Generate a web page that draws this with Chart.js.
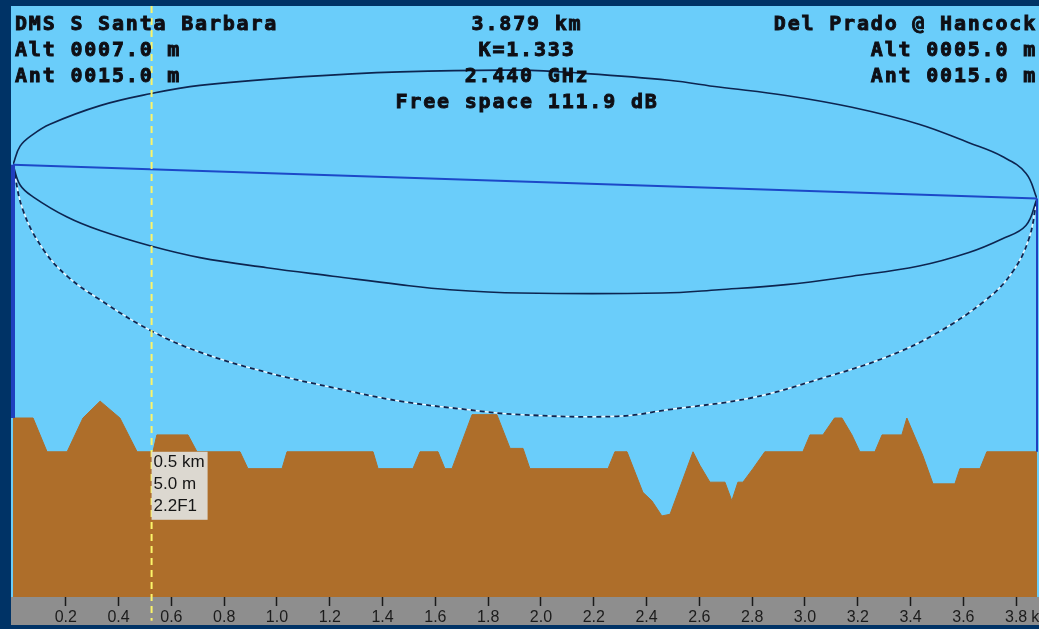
<!DOCTYPE html>
<html>
<head>
<meta charset="utf-8">
<title>Path profile</title>
<script src="https://cdn.jsdelivr.net/npm/chart.js@4.4.0/dist/chart.umd.min.js"></script>
<style>
    html, body { margin: 0; padding: 0; background: #003366; overflow: hidden; }
    #profile-chart { display: block; }
</style>
</head>
<body>
<canvas id="profile-chart" width="1039" height="629"></canvas>
<script>
// path length (km) and visible height range (m)
const pathKm = 3.879;
const heightMin = -3.6;
const heightMax = 31.4;

// site heights: ground + antenna
const siteA = { name: 'DMS S Santa Barbara', alt: 7, ant: 15 };
const siteB = { name: 'Del Prado @ Hancock', alt: 5, ant: 15 };

// terrain profile
const terrainKm = [0, 0.076, 0.129, 0.205, 0.265, 0.330, 0.405, 0.470, 0.530, 0.545, 0.663, 0.697, 0.860, 0.890,
    1.019, 1.038, 1.364, 1.383, 1.515, 1.542, 1.610, 1.636, 1.663, 1.739, 1.833, 1.883, 1.932, 1.958,
    2.254, 2.280, 2.326, 2.386, 2.420, 2.458, 2.489, 2.576, 2.602, 2.640, 2.697, 2.723, 2.746, 2.765,
    2.803, 2.848, 2.992, 3.019, 3.068, 3.112, 3.140, 3.178, 3.208, 3.265, 3.292, 3.367, 3.386, 3.446,
    3.485, 3.568, 3.587, 3.663, 3.689, 3.879];
const terrainM = [7, 7, 5, 5, 7, 8, 7, 5, 5, 6, 6, 5, 5, 4,
    4, 5, 5, 4, 4, 5, 5, 4, 4, 7.2, 7.2, 5.2, 5.2, 4,
    4, 5, 5, 2.6, 2.1, 1.2, 1.3, 5, 4.2, 3.2, 3.2, 2.1, 3.2, 3.2,
    4, 5, 5, 6, 6, 7, 7, 6, 5, 5, 6, 6, 7, 4.8,
    3.1, 3.1, 4, 4, 5, 5];

// 0.6 F1 zone, upper and lower edge
const zoneUpperKm = [0, 0.027, 0.076, 0.140, 0.330, 0.519, 0.708, 1.087, 1.466, 1.920, 2.170, 2.485, 2.674, 2.928, 3.178, 3.432, 3.621, 3.746, 3.837, 3.879];
const zoneUpperM = [22.0, 23.1, 23.8, 24.4, 25.5, 26.2, 26.7, 27.2, 27.5, 27.6, 27.4, 27.0, 26.6, 26.1, 25.4, 24.4, 23.3, 22.5, 21.5, 20.0];
const zoneLowerKm = [0, 0.027, 0.076, 0.205, 0.330, 0.519, 0.708, 0.962, 1.212, 1.466, 1.655, 1.920, 2.458, 2.674, 2.928, 3.178, 3.432, 3.621, 3.746, 3.837, 3.879];
const zoneLowerM = [22.0, 20.8, 20.1, 18.9, 18.1, 17.2, 16.5, 15.9, 15.4, 14.9, 14.6, 14.4, 14.4, 14.6, 14.9, 15.4, 16.0, 16.8, 17.6, 18.4, 20.0];

// first Fresnel zone, lower edge (dashed)
const fresnelKm = [0, 0.038, 0.114, 0.205, 0.330, 0.519, 0.708, 0.962, 1.212, 1.466, 1.720, 1.920, 2.288, 2.485, 2.799, 3.053, 3.307, 3.496, 3.686, 3.784, 3.848, 3.879];
const fresnelM = [22.0, 19.3, 17.0, 15.4, 14.0, 12.2, 10.9, 9.7, 8.8, 8.0, 7.5, 7.2, 7.1, 7.5, 8.2, 9.3, 10.6, 12.0, 14.0, 15.6, 17.6, 20.0];

// cursor readout
const cursorKm = 0.525;
const cursorLines = ['0.5 km', '5.0 m', '2.2F1'];
const cursorGroundM = 5.0;

const headerLeft = [siteA.name, 'Alt 0007.0 m', 'Ant 0015.0 m'];
const headerCenter = ['3.879 km', 'K=1.333', '2.440 GHz', 'Free space 111.9 dB'];
const headerRight = [siteB.name, 'Alt 0005.0 m', 'Ant 0015.0 m'];

function toPoints(xs, ys) {
    return xs.map((x, i) => ({ x: x, y: ys[i] }));
}

const backdropPlugin = {
    id: 'backdrop',
    beforeDraw(chart) {
        const { ctx, chartArea } = chart;
        ctx.save();
        ctx.fillStyle = '#003366';
        ctx.fillRect(0, 0, chart.width, chart.height);
        ctx.fillStyle = '#6acdfa';
        ctx.fillRect(chartArea.left - 2, chartArea.top, chart.width, chartArea.bottom - chartArea.top);
        ctx.fillStyle = '#8e8e8e';
        ctx.fillRect(chartArea.left - 2, chartArea.bottom, chart.width, 28);
        ctx.restore();
    }
};

// monospaced header text, drawn char by char to get the wide bitmap look
function drawMono(ctx, text, x, y, align) {
    const step = 13.85;
    const w = text.length * step;
    let x0 = x;
    if (align === 'right') x0 = x - w;
    if (align === 'center') x0 = x - w / 2;
    for (let i = 0; i < text.length; i++) {
        ctx.strokeText(text[i], x0 + i * step, y);
        ctx.fillText(text[i], x0 + i * step, y);
    }
}

const labelsPlugin = {
    id: 'labels',
    afterDatasetsDraw(chart) {
        const { ctx } = chart;
        const xs = chart.scales.x;
        const ys = chart.scales.y;
        ctx.save();

        // header
        ctx.fillStyle = '#0e0e14';
        ctx.strokeStyle = '#0e0e14';
        ctx.lineWidth = 0.9;
        ctx.font = 'bold 20px "DejaVu Sans Mono", "Liberation Mono", monospace';
        ctx.textAlign = 'left';
        ctx.textBaseline = 'middle';
        const rows = [25, 51, 77, 103];
        headerLeft.forEach((t, i) => drawMono(ctx, t, 15, rows[i], 'left'));
        headerCenter.forEach((t, i) => drawMono(ctx, t, 527, rows[i], 'center'));
        headerRight.forEach((t, i) => drawMono(ctx, t, 1037, rows[i], 'right'));

        // cursor readout box
        const bx = xs.getPixelForValue(cursorKm);
        const by = ys.getPixelForValue(cursorGroundM);
        ctx.fillStyle = '#dcd8d0';
        ctx.fillRect(bx, by, 56, 68);
        ctx.fillStyle = '#151515';
        ctx.font = '17px "Liberation Sans", Arial, sans-serif';
        cursorLines.forEach((t, i) => ctx.fillText(t, bx + 2, by + 11 + i * 22));

        // unit after the last tick label
        ctx.font = '16px "Liberation Sans Narrow", "Liberation Sans", Arial, sans-serif';
        ctx.fillStyle = '#1c1c1c';
        ctx.fillText('km', xs.getPixelForValue(3.8) + 15, 618);
        ctx.restore();
    }
};

const ctx = document.getElementById('profile-chart').getContext('2d');
new Chart(ctx, {
    type: 'line',
    data: {
        datasets: [
            {
                // cursor
                data: [{ x: cursorKm, y: heightMax }, { x: cursorKm, y: -5.0 }],
                borderColor: '#fbf46a',
                borderWidth: 2,
                borderDash: [7, 5],
                clip: false,
                order: 0
            },
            {
                // antenna A
                data: [{ x: 0, y: siteA.alt }, { x: 0, y: siteA.alt + siteA.ant }],
                borderColor: '#1f3fbf',
                borderWidth: 4,
                clip: false,
                order: 1
            },
            {
                // antenna B
                data: [{ x: pathKm, y: siteB.alt }, { x: pathKm, y: siteB.alt + siteB.ant }],
                borderColor: '#1f3fbf',
                borderWidth: 2,
                clip: false,
                order: 1
            },
            {
                // line of sight
                data: [{ x: 0, y: siteA.alt + siteA.ant }, { x: pathKm, y: siteB.alt + siteB.ant }],
                borderColor: '#1c48c8',
                borderWidth: 2,
                order: 2
            },
            {
                data: toPoints(zoneUpperKm, zoneUpperM),
                borderColor: '#0d2550',
                borderWidth: 1.6,
                tension: 0.4,
                order: 3
            },
            {
                data: toPoints(zoneLowerKm, zoneLowerM),
                borderColor: '#0d2550',
                borderWidth: 1.6,
                tension: 0.4,
                order: 3
            },
            {
                // dark dashes over white
                data: toPoints(fresnelKm, fresnelM),
                borderColor: '#0d2550',
                borderWidth: 1.8,
                borderDash: [5, 4],
                tension: 0.4,
                order: 4
            },
            {
                data: toPoints(fresnelKm, fresnelM),
                borderColor: '#f2faff',
                borderWidth: 1.4,
                tension: 0.4,
                order: 5
            },
            {
                // terrain
                data: toPoints(terrainKm, terrainM),
                borderColor: '#ad6d2a',
                borderWidth: 1,
                backgroundColor: '#ae6e2a',
                fill: 'start',
                order: 10
            }
        ]
    },
    options: {
        responsive: false,
        animation: false,
        layout: { padding: { left: 13, right: 2, top: 6, bottom: 4 } },
        elements: { point: { radius: 0 }, line: { tension: 0 } },
        plugins: {
            legend: { display: false },
            tooltip: { enabled: false }
        },
        scales: {
            x: {
                type: 'linear',
                min: 0,
                max: pathKm,
                afterBuildTicks: scale => {
                    scale.ticks = scale.ticks.filter(t => t.value > 0.05 && t.value < 3.85);
                },
                afterFit: scale => { scale.height = 28; },
                border: { display: false },
                grid: {
                    drawOnChartArea: false,
                    drawTicks: true,
                    tickLength: 9,
                    tickColor: '#1a1a1a',
                    tickWidth: 1.5
                },
                ticks: {
                    stepSize: 0.2,
                    includeBounds: false,
                    padding: 2,
                    autoSkip: false,
                    maxRotation: 0,
                    color: '#1c1c1c',
                    font: { family: '"Liberation Sans Narrow", "Liberation Sans", Arial, sans-serif', size: 16 },
                    callback: v => Number(v).toFixed(1)
                }
            },
            y: {
                display: false,
                min: heightMin,
                max: heightMax
            }
        }
    },
    plugins: [backdropPlugin, labelsPlugin]
});
</script>
</body>
</html>
